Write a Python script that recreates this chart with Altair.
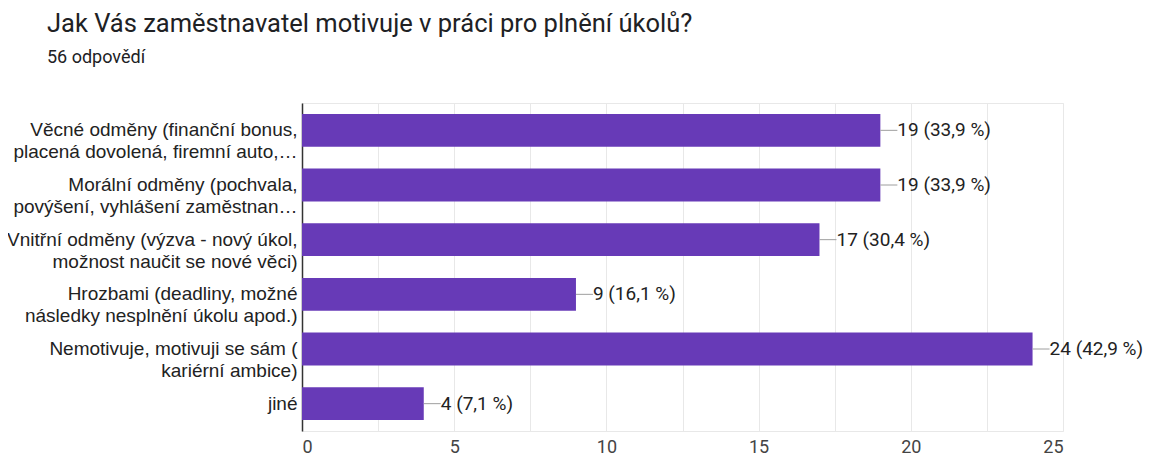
import altair as alt
import pandas as pd

categories = [
    "Věcné odměny (finanční bonus,|placená dovolená, firemní auto,…",
    "Morální odměny (pochvala,|povýšení, vyhlášení zaměstnan…",
    "Vnitřní odměny (výzva - nový úkol,|možnost naučit se nové věci)",
    "Hrozbami (deadliny, možné|následky nesplnění úkolu apod.)",
    "Nemotivuje, motivuji se sám (|kariérní ambice)",
    "jiné",
]
counts = [19, 19, 17, 9, 24, 4]
value_labels = ["19 (33,9 %)", "19 (33,9 %)", "17 (30,4 %)", "9 (16,1 %)", "24 (42,9 %)", "4 (7,1 %)"]
x_ticks = [0, 2.5, 5, 7.5, 10, 12.5, 15, 17.5, 20, 22.5, 25]

df = pd.DataFrame({"cat": categories, "count": counts, "label": value_labels})

y_enc = alt.Y(
    "cat:N",
    sort=categories,
    title=None,
    scale=alt.Scale(paddingInner=0.4, paddingOuter=0.2),
    axis=alt.Axis(
        labelExpr="split(datum.value, '|')",
        labelFont="Liberation Sans",
        labelFontSize=19,
        labelColor="#222222",
        labelLineHeight=22,
        labelLimit=700,
        labelPadding=5,
        ticks=False,
        domainColor="#333333",
        domainWidth=1.5,
        grid=False,
    ),
)
x_enc = alt.X(
    "count:Q",
    title=None,
    scale=alt.Scale(domain=[0, 25], nice=False),
    axis=alt.Axis(
        values=x_ticks,
        labelExpr="datum.value % 5 == 0 ? datum.label : ''",
        labelFont="Roboto",
        labelFontSize=18,
        labelColor="#444444",
        labelPadding=7,
        ticks=False,
        domain=False,
        grid=True,
        gridColor="#e8e8e8",
        gridWidth=1,
    ),
)

base = alt.Chart(df)
bars = base.mark_bar(color="#673AB7").encode(x=x_enc, y=y_enc)
leader = base.mark_rule(color="#9e9e9e", strokeWidth=1, x2Offset=17).encode(
    x="count:Q", x2="count:Q", y=alt.Y("cat:N", sort=categories)
)
texts = base.mark_text(
    align="left", baseline="middle", dx=17, font="Roboto", fontSize=19, color="#222222"
).encode(x="count:Q", y=alt.Y("cat:N", sort=categories), text="label:N")

chart = (
    alt.layer(bars, leader, texts)
    .properties(
        width=761,
        height=328,
        autosize=alt.AutoSizeParams(type="none"),
        padding={"left": 294, "top": 95, "right": 81, "bottom": 40},
        title=alt.TitleParams(
            text="Jak Vás zaměstnavatel motivuje v práci pro plnění úkolů?",
            subtitle="56 odpovědí",
            anchor="start",
            frame="group",
            dx=-255,
            offset=36,
            font="Roboto",
            fontSize=25.5,
            fontWeight="normal",
            color="#202124",
            subtitleFont="Roboto",
            subtitleFontSize=18,
            subtitleColor="#202124",
            subtitlePadding=12,
        ),
    )
    .configure_view(stroke="#e8e8e8")
)

chart.save("out.html", embed_options={"renderer": "svg", "actions": False})
